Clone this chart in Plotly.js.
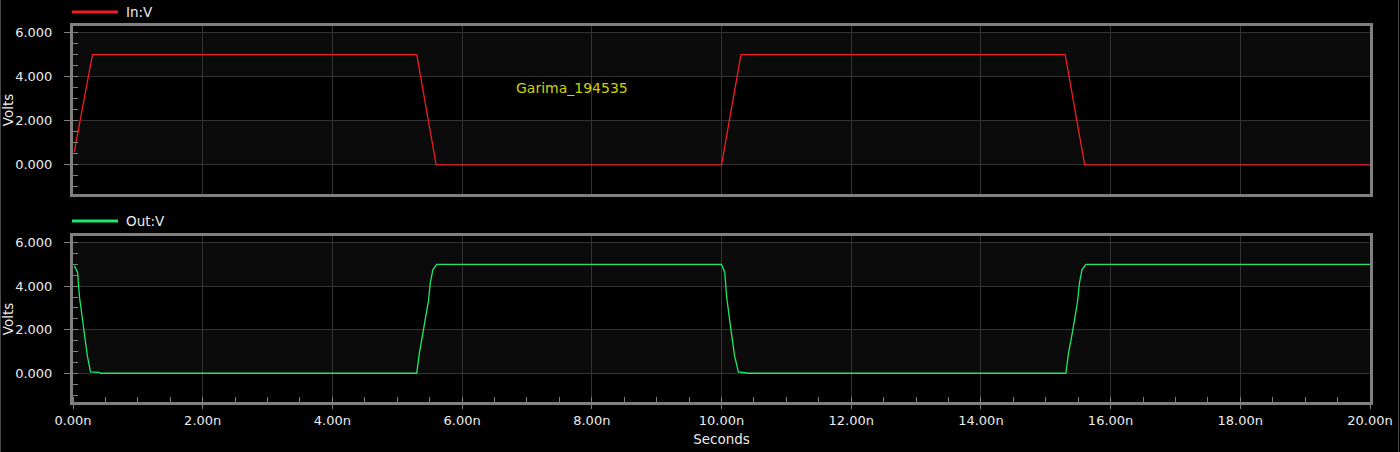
<!DOCTYPE html>
<html>
<head>
<meta charset="utf-8">
<script src="https://cdn.plot.ly/plotly-3.0.1.min.js"></script>
<style>
html,body{margin:0;padding:0;background:#000;}
#chart{width:1400px;height:452px;}
</style>
</head>
<body>
<div id="chart"></div>
<script>
// Time in nanoseconds
const timeIn = [0.02, 0.30, 5.30, 5.60, 10.00, 10.30, 15.30, 15.60, 20.00];
const voltsIn = [0.60, 5.00, 5.00, 0.00, 0.00, 5.00, 5.00, 0.00, 0.00];

const timeOut = [0.02, 0.07, 0.10, 0.16, 0.22, 0.27, 0.40, 0.43,
                 5.30, 5.34, 5.41, 5.48, 5.51, 5.55, 5.61,
                 10.00, 10.05, 10.08, 10.14, 10.20, 10.26, 10.38, 10.42,
                 15.31, 15.35, 15.42, 15.49, 15.52, 15.56, 15.62, 20.00];
const voltsOut = [4.93, 4.64, 3.50, 2.12, 0.82, 0.06, 0.04, 0.00,
                  0.00, 0.90, 2.03, 3.30, 4.15, 4.76, 5.00,
                  5.00, 4.64, 3.50, 2.12, 0.82, 0.06, 0.04, 0.00,
                  0.00, 0.90, 2.03, 3.30, 4.15, 4.76, 5.00, 5.00];

const inName = 'In:V';
const outName = 'Out:V';
const noteText = 'Garima_194535';
const noteX = 7.7;
const noteY = 3.5;
const yTitle = 'Volts';
const xTitle = 'Seconds';

const FONT = 'DejaVu Sans, sans-serif';
const TXT = '#ececec';
const GRID = '#333333';
const FRAME = '#808080';
const BAND = '#0b0b0b';
const RED = '#f01c24';
const GREEN = '#1ee86a';

const traces = [
  {x: timeIn, y: voltsIn, type: 'scatter', mode: 'lines', name: inName,
   line: {color: RED, width: 1.3}, xaxis: 'x', yaxis: 'y'},
  {x: timeOut, y: voltsOut, type: 'scatter', mode: 'lines', name: outName,
   line: {color: GREEN, width: 1.3}, xaxis: 'x2', yaxis: 'y2'}
];

const yRange = [-1.32, 6.3];
function yAxis(domain, anchor) {
  return {
    domain: domain, range: yRange, anchor: anchor, tickvals: [0, 2, 4, 6], tickformat: '.3f',
    ticks: 'outside', ticklen: 6, tickwidth: 1, tickcolor: FRAME, ticklabelstandoff: 9,
    minor: {dtick: 0.5, tick0: 0, ticks: 'inside', ticklen: 5, tickcolor: FRAME, showgrid: false},
    showgrid: true, gridcolor: GRID, gridwidth: 1, zeroline: false,
    showline: true, linecolor: FRAME, linewidth: 3, mirror: true,
    tickfont: {family: FONT, size: 13, color: TXT},
    title: {text: yTitle, font: {family: FONT, size: 13.5, color: TXT}, standoff: 1},
    fixedrange: true
  };
}

// plot-area geometry helpers (paper fractions from pixel positions)
const PL = 73, PW = 1297, PB = 402, PH = 376;
const px = v => (v - PL) / PW;
const py = v => (PB - v) / PH;

const shapes = [];
[['x', 'y'], ['x2', 'y2']].forEach(([xa, ya]) => {
  [[0, 2], [4, 6]].forEach(([a, b]) => {
    shapes.push({type: 'rect', xref: xa + ' domain', yref: ya, x0: 0, x1: 1, y0: a, y1: b,
      fillcolor: BAND, line: {width: 0}, layer: 'below'});
  });
});
// window edges
shapes.push({type: 'line', xref: 'paper', yref: 'paper', x0: px(0.5), x1: px(0.5), y0: py(452), y1: py(0),
  line: {color: '#4a4a4a', width: 1}});
shapes.push({type: 'line', xref: 'paper', yref: 'paper', x0: px(1398.5), x1: px(1398.5), y0: py(452), y1: py(0),
  line: {color: '#4a4a4a', width: 1}});

// legend keys drawn as shapes + text
const legendItems = [[inName, RED, 12], [outName, GREEN, 221]];
const annotations = [
  {x: noteX, y: noteY, xref: 'x', yref: 'y', text: noteText, showarrow: false,
   font: {family: FONT, size: 14, color: '#d2d200'}}
];
legendItems.forEach(([name, color, yc]) => {
  shapes.push({type: 'line', xref: 'paper', yref: 'paper', x0: px(72), x1: px(118), y0: py(yc), y1: py(yc),
    line: {color: color, width: 3}});
  annotations.push({x: px(124), y: py(yc), xref: 'paper', yref: 'paper', xanchor: 'left', yanchor: 'middle',
    text: name, showarrow: false, font: {family: FONT, size: 13.5, color: TXT}});
});

const layout = {
  width: 1400, height: 452,
  margin: {l: PL, r: 1400 - PL - PW, t: 26, b: 452 - PB},
  paper_bgcolor: '#000', plot_bgcolor: '#000',
  font: {family: FONT, size: 13, color: TXT},
  showlegend: false,
  xaxis: {
    domain: [0, 1], range: [0, 20], anchor: 'y', dtick: 2, tick0: 0,
    showticklabels: false, ticks: '',
    showgrid: true, gridcolor: GRID, zeroline: false,
    showline: true, linecolor: FRAME, linewidth: 3, mirror: true, fixedrange: true
  },
  xaxis2: {
    domain: [0, 1], range: [0, 20], anchor: 'y2', dtick: 2, tick0: 0,
    tickformat: '.2f', ticksuffix: 'n',
    ticks: 'outside', ticklen: 4, tickcolor: FRAME,
    minor: {dtick: 0.5, tick0: 0, ticks: 'inside', ticklen: 5, tickcolor: FRAME, showgrid: false},
    showgrid: true, gridcolor: GRID, zeroline: false,
    showline: true, linecolor: FRAME, linewidth: 3, mirror: true,
    tickfont: {family: FONT, size: 13, color: TXT},
    title: {text: xTitle, font: {family: FONT, size: 13.5, color: TXT}, standoff: 8},
    fixedrange: true
  },
  yaxis: yAxis([py(194), 1], 'x'),
  yaxis2: yAxis([0, py(236)], 'x2'),
  shapes: shapes,
  annotations: annotations
};

Plotly.newPlot('chart', traces, layout, {displayModeBar: false, staticPlot: true});
</script>
</body>
</html>
